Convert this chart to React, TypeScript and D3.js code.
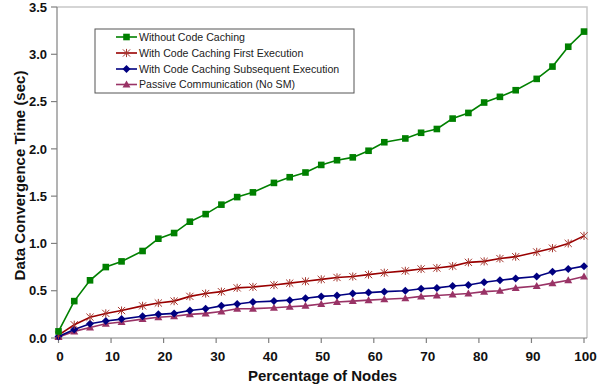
import React from "react";
import * as d3 from "d3";

// Percentage of nodes participating (x positions of every sample)
const nodePct = [0, 3, 6, 9, 12, 16, 19, 22, 25, 28, 31, 34, 37, 41, 44, 47, 50, 53, 56, 59, 62, 66, 69, 72, 75, 78, 81, 84, 87, 91, 94, 97, 100];

// Data convergence time in seconds for each configuration
const withoutCaching = [0.07, 0.39, 0.61, 0.75, 0.81, 0.92, 1.05, 1.11, 1.23, 1.31, 1.41, 1.49, 1.54, 1.64, 1.7, 1.75, 1.83, 1.88, 1.91, 1.98, 2.07, 2.11, 2.17, 2.21, 2.32, 2.38, 2.49, 2.55, 2.62, 2.74, 2.87, 3.08, 3.24];
const cachingFirst = [0.03, 0.14, 0.22, 0.26, 0.29, 0.34, 0.37, 0.39, 0.44, 0.47, 0.49, 0.53, 0.54, 0.56, 0.58, 0.6, 0.62, 0.64, 0.65, 0.67, 0.69, 0.71, 0.73, 0.74, 0.76, 0.8, 0.81, 0.84, 0.86, 0.91, 0.95, 1.0, 1.08];
const cachingSubsequent = [0.015, 0.09, 0.15, 0.18, 0.2, 0.23, 0.25, 0.26, 0.29, 0.31, 0.34, 0.36, 0.38, 0.39, 0.4, 0.42, 0.44, 0.45, 0.47, 0.48, 0.49, 0.5, 0.52, 0.53, 0.55, 0.56, 0.59, 0.61, 0.63, 0.65, 0.7, 0.73, 0.76];
const passiveComm = [0.01, 0.07, 0.11, 0.15, 0.17, 0.2, 0.22, 0.23, 0.25, 0.26, 0.28, 0.31, 0.31, 0.32, 0.33, 0.34, 0.36, 0.38, 0.39, 0.4, 0.41, 0.42, 0.44, 0.45, 0.46, 0.47, 0.49, 0.5, 0.53, 0.55, 0.58, 0.61, 0.65];

const seriesNames = [
  "Without Code Caching",
  "With Code Caching First Execution",
  "With Code Caching Subsequent Execution",
  "Passive Communication (No SM)",
];

const xTicks = [0, 10, 20, 30, 40, 50, 60, 70, 80, 90, 100];
const yTicks = [0, 0.5, 1, 1.5, 2, 2.5, 3, 3.5];

type MarkerKind = "square" | "star" | "diamond" | "triangle";

const seriesStyle: { values: number[]; line: string; fill: string; marker: MarkerKind }[] = [
  { values: withoutCaching, line: "#008000", fill: "#008000", marker: "square" },
  { values: cachingFirst, line: "#990000", fill: "#a5372f", marker: "star" },
  { values: cachingSubsequent, line: "#000080", fill: "#000080", marker: "diamond" },
  { values: passiveComm, line: "#993366", fill: "#993366", marker: "triangle" },
];

const FONT = "'Liberation Sans', Arial, Helvetica, sans-serif";

function Marker({ kind, x, y, color }: { kind: MarkerKind; x: number; y: number; color: string }) {
  if (kind === "square") {
    return <rect x={x - 3.3} y={y - 3.3} width={6.6} height={6.6} fill={color} />;
  }
  if (kind === "diamond") {
    return <path d={`M${x},${y - 4}L${x + 4},${y}L${x},${y + 4}L${x - 4},${y}Z`} fill={color} />;
  }
  if (kind === "triangle") {
    return <path d={`M${x},${y - 4}L${x + 4},${y + 3}L${x - 4},${y + 3}Z`} fill={color} />;
  }
  const r = 3.6;
  return (
    <path
      d={`M${x - r},${y - r}L${x + r},${y + r}M${x - r},${y + r}L${x + r},${y - r}M${x},${y - r - 0.5}L${x},${y + r + 0.5}`}
      stroke={color}
      strokeWidth={1}
      fill="none"
    />
  );
}

export default function App() {
  const width = 606;
  const height = 391;
  const plotLeft = 57;
  const plotRight = 587;
  const plotTop = 7;
  const plotBottom = 338;

  const x = d3.scaleLinear().domain([0, 100]).range([58.5, 584]);
  const y = d3.scaleLinear().domain([0, 3.5]).range([plotBottom, plotTop]);

  const line = d3
    .line<number>()
    .x((_, i) => x(nodePct[i]))
    .y((d) => y(d));

  const legendX = 95;
  const legendY = 29;
  const legendRowY = [37, 53, 69, 84.5];

  return (
    <svg
      width={width}
      height={height}
      style={{ position: "absolute", left: 0, top: 0, background: "#fff" }}
      fontFamily={FONT}
    >
      <rect x={0} y={0} width={width} height={height} fill="#fff" />

      {/* plot frame */}
      <path
        d={`M${plotLeft},${plotTop}H${plotRight}V${plotBottom}`}
        fill="none"
        stroke="#c8c8c8"
        strokeWidth={1.5}
      />

      {/* axes */}
      <line x1={plotLeft} x2={plotLeft} y1={plotTop} y2={plotBottom} stroke="#808080" strokeWidth={1.2} />
      <line x1={plotLeft} x2={plotRight} y1={plotBottom} y2={plotBottom} stroke="#808080" strokeWidth={1.2} />

      {yTicks.map((t) => (
        <g key={`y${t}`}>
          <line x1={plotLeft - 6} x2={plotLeft} y1={y(t)} y2={y(t)} stroke="#808080" strokeWidth={1.2} />
          <text
            x={47}
            y={y(t)}
            dy="0.36em"
            textAnchor="end"
            fontSize={13}
            fontWeight="bold"
            fill="#111"
          >
            {d3.format(".1f")(t)}
          </text>
        </g>
      ))}

      {xTicks.map((t) => (
        <g key={`x${t}`}>
          <line x1={x(t)} x2={x(t)} y1={plotBottom} y2={plotBottom + 5} stroke="#808080" strokeWidth={1.2} />
          <text
            x={x(t) + 1.5}
            y={361}
            textAnchor="middle"
            fontSize={13.5}
            fontWeight="bold"
            fill="#111"
          >
            {t}
          </text>
        </g>
      ))}

      {/* axis titles */}
      <text x={322.5} y={381} textAnchor="middle" fontSize={15} fontWeight="bold" fill="#111">
        Percentage of Nodes
      </text>
      <text
        transform="translate(25,175.5) rotate(-90)"
        textAnchor="middle"
        fontSize={15}
        fontWeight="bold"
        fill="#111"
      >
        Data Convergence Time (sec)
      </text>

      {/* series lines, drawn back to front */}
      {[...seriesStyle].reverse().map((s, k) => (
        <g key={`s${k}`}>
          <path d={line(s.values) ?? ""} fill="none" stroke={s.line} strokeWidth={1.6} />
          {s.values.map((v, i) => (
            <Marker key={i} kind={s.marker} x={x(nodePct[i])} y={y(v)} color={s.fill} />
          ))}
        </g>
      ))}

      {/* legend */}
      <rect x={legendX} y={legendY} width={259} height={64} fill="#fff" stroke="#555" strokeWidth={1} />
      {seriesStyle.map((s, i) => (
        <g key={`l${i}`}>
          <line x1={116} x2={137} y1={legendRowY[i]} y2={legendRowY[i]} stroke={s.line} strokeWidth={1.6} />
          <Marker kind={s.marker} x={126.5} y={legendRowY[i]} color={s.fill} />
          <text x={139} y={legendRowY[i]} dy="0.36em" fontSize={10.6} fill="#222">
            {seriesNames[i]}
          </text>
        </g>
      ))}
    </svg>
  );
}
